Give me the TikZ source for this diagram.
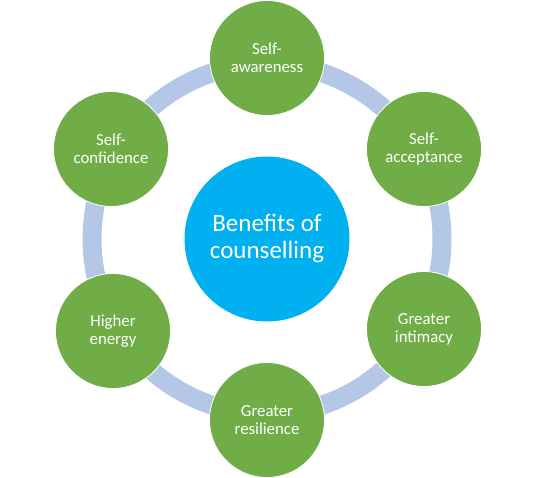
\documentclass[tikz,border=0pt]{standalone}
\usepackage{fontspec}
\setmainfont{Carlito}
\usepackage{tikz}
\usetikzlibrary{positioning}

\definecolor{benefitgreen}{HTML}{70AD47}
\definecolor{centreblue}{HTML}{00B0F0}
\definecolor{ringblue}{HTML}{B4C7E7}

\tikzset{
	benefit/.style={circle, fill=benefitgreen, draw=white, line width=0.8pt,
		minimum size=115pt, inner sep=0pt, align=center, text=white,
		font=\fontsize{16.8}{18}\selectfont},
	centre/.style={circle, fill=centreblue, minimum size=165pt, inner sep=0pt,
		align=center, text=white, font=\fontsize{25}{27}\selectfont}
}

\begin{document}
\begin{tikzpicture}[x=1pt,y=-1pt]
			
			\useasboundingbox (0,0) rectangle (535,478);
			
			% hub
			\node[centre] (hub) at (267,239) {Benefits of\\counselling};
			
			% ring behind the outer circles
			\draw[ringblue, line width=19pt] (hub) circle (175pt);
			
			% outer circles
			\node[benefit] (aware) at (267,58) {Self-\\awareness};
			\node[benefit] (accept) at (424,149) {Self-\\acceptance};
			\node[benefit] (intim) at (424,329) {Greater\\intimacy};
			\node[benefit] (resil) at (267,420) {Greater\\resilience};
			\node[benefit] (energy) at (113,331) {Higher\\energy};
			\node[benefit] (confid) at (111,149) {Self-\\confidence};
			
		\end{tikzpicture}
\end{document}
